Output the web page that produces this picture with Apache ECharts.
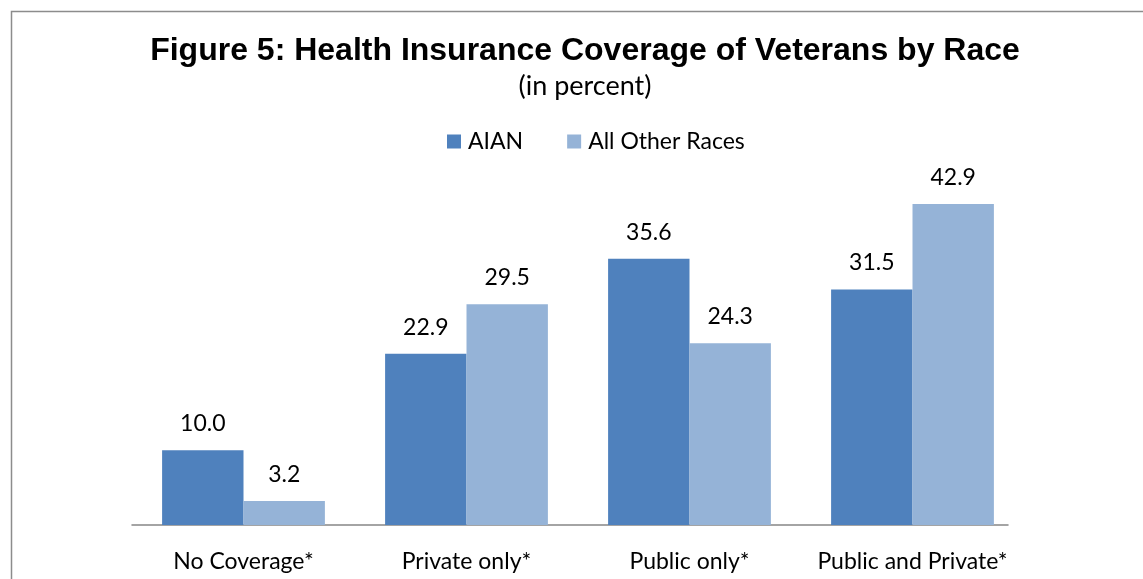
<!DOCTYPE html>
<html><head><meta charset="utf-8">
<script src="https://cdn.jsdelivr.net/npm/echarts@6/dist/echarts.min.js"></script>
<style>html,body{margin:0;padding:0;background:#fff}#c{width:1143px;height:579px}</style>
</head><body><div id="c"></div>
<script>
const categories = ['No Coverage*', 'Private only*', 'Public only*', 'Public and Private*'];
const aian = [10.0, 22.9, 35.6, 31.5];
const otherRaces = [3.2, 29.5, 24.3, 42.9];
const seriesNames = ['AIAN', 'All Other Races'];

const chart = echarts.init(document.getElementById('c'));
const font = 'Lato, "Open Sans", sans-serif';
const lbl = {show: true, position: 'top', distance: 15, color: '#000', fontSize: 23, fontFamily: font, formatter: p => p.value.toFixed(1)};
chart.setOption({
  animation: false,
  title: {
    text: 'Figure 5: Health Insurance Coverage of Veterans by Race',
    subtext: '(in percent)',
    left: 580, top: 30, textAlign: 'center', itemGap: 6,
    textStyle: {fontFamily: '"Liberation Sans", Arial, sans-serif', fontWeight: 'bold', fontSize: 32, color: '#000'},
    subtextStyle: {fontFamily: font, fontSize: 27, color: '#000'}
  },
  legend: {
    data: seriesNames, top: 125, left: 442, itemWidth: 14, itemHeight: 14, itemGap: 44,
    icon: 'rect',
    textStyle: {fontFamily: font, fontSize: 23, color: '#000', padding: [0,0,0,2]}
  },
  graphic: [{type: 'rect', shape: {x: 11.5, y: 11.5, width: 1200, height: 700}, style: {fill: 'none', stroke: '#8c8c8c', lineWidth: 1.5}, silent: true}],
  grid: [
    {left: 132, right: 119, top: 151, bottom: 54},
    {left: 132, right: 135, top: 151, bottom: 54}
  ],
  xAxis: [{
    type: 'category', data: categories, gridIndex: 0,
    axisLine: {show: false},
    axisTick: {show: false},
    axisLabel: {interval: 0, fontFamily: font, fontSize: 23, color: '#000', margin: 25}
  }, {
    type: 'category', data: categories, gridIndex: 1,
    axisLine: {lineStyle: {color: '#868686', width: 1.5}},
    axisTick: {show: false}, axisLabel: {show: false}
  }],
  yAxis: [
    {type: 'value', min: 0, max: 50, show: false, splitLine: {show: false}, gridIndex: 0},
    {type: 'value', min: 0, max: 50, show: false, splitLine: {show: false}, gridIndex: 1}
  ],
  series: [
    {name: seriesNames[0], type: 'bar', data: aian, itemStyle: {color: '#4F81BD'}, barGap: '0%', barCategoryGap: '27%', label: lbl},
    {name: seriesNames[1], type: 'bar', data: otherRaces, itemStyle: {color: '#95B3D7'}, label: lbl}
  ]
});
</script></body></html>
